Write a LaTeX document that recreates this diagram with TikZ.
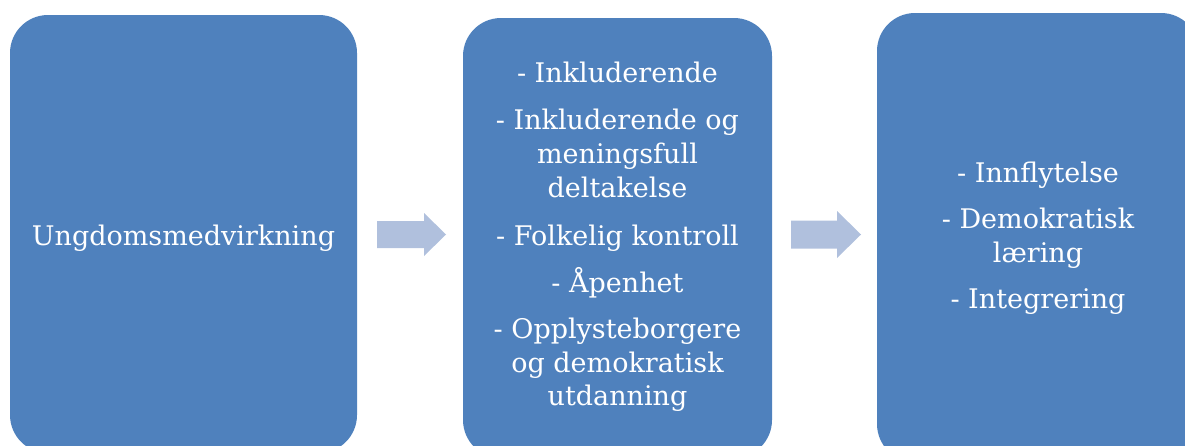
\documentclass[tikz,border=0pt]{standalone}
\usepackage{fontspec}
\setmainfont{DejaVu Serif}
\definecolor{boxblue}{HTML}{4F81BD}
\definecolor{arrowblue}{HTML}{B0C0DD}
\tikzset{
  stagebox/.style={fill=boxblue, rounded corners=38pt},
  stagetext/.style={text=white, inner sep=0pt, anchor=base,
    font=\fontsize{27}{34}\selectfont},
  blockarrow/.style={fill=arrowblue}
}
\begin{document}
\begin{tikzpicture}[x=1pt,y=-1pt]
\useasboundingbox (0,0) rectangle (1185,445);
\clip (0,0) rectangle (1185,445);
% boxes
\fill[stagebox] (10,15) rectangle (357,453);
\fill[stagebox] (463,18) rectangle (772,458);
\fill[stagebox] (877,13) rectangle (1199,462);
% arrows
\coordinate (a1) at (377,234.5);
\coordinate (a2) at (791,234.5);
\fill[blockarrow] (a1) ++(0,-13.5) -- ++(47,0) -- ++(0,-8) -- ++(22,21.5) -- ++(-22,21.5) -- ++(0,-8) -- ++(-47,0) -- cycle;
\fill[blockarrow] (a2) ++(0,-14) -- ++(46,0) -- ++(0,-9.5) -- ++(24,23.5) -- ++(-24,23.5) -- ++(0,-9.5) -- ++(-46,0) -- cycle;
% box 1 text
\node[stagetext] (t1) at (183.5,245) {Ungdomsmedvirkning};
% box 2 text
\node[stagetext] (b2l1) at (617.5,82) {- Inkluderende};
\node[stagetext] (b2l2) at (617.5,129) {- Inkluderende og};
\node[stagetext] (b2l3) at (617.5,163) {meningsfull};
\node[stagetext] (b2l4) at (617.5,197) {deltakelse};
\node[stagetext] (b2l5) at (617.5,245) {- Folkelig kontroll};
\node[stagetext] (b2l6) at (617.5,292) {- Åpenhet};
\node[stagetext] (b2l7) at (617.5,338) {- Opplysteborgere};
\node[stagetext] (b2l8) at (617.5,372) {og demokratisk};
\node[stagetext] (b2l9) at (617.5,405) {utdanning};
% box 3 text
\node[stagetext] (b3l1) at (1038,182) {- Innflytelse};
\node[stagetext] (b3l2) at (1038,228) {- Demokratisk};
\node[stagetext] (b3l3) at (1038,262) {læring};
\node[stagetext] (b3l4) at (1038,308) {- Integrering};
\end{tikzpicture}
\end{document}
